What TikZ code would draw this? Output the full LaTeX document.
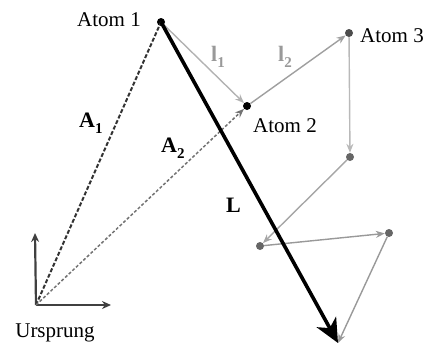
\documentclass[tikz,border=0pt]{standalone}
\usepackage{fontspec}
\setmainfont{Liberation Serif}
\usetikzlibrary{arrows.meta}
\newcommand{\mysub}[1]{\raisebox{-6pt}{\fontsize{15}{15}\selectfont\bfseries #1}}
\begin{document}
\begin{tikzpicture}[x=1pt,y=-1pt,
  atomdot/.style={circle,fill=#1,inner sep=0pt,minimum size=8pt},
  chain/.style={draw=gray!75,line width=1.4pt,-{Stealth[length=9pt,width=7pt]}},
  axis/.style={draw=black!75,line width=2.2pt,-{Stealth[length=9pt,width=8pt]}},
  lab/.style={font=\fontsize{21}{24}\selectfont,anchor=base,inner sep=0pt},
  blab/.style={font=\fontsize{22}{24}\selectfont\bfseries,anchor=base west,inner sep=0pt},
  glab/.style={font=\fontsize{22}{24}\selectfont\bfseries,text=gray!80,anchor=base west,inner sep=0pt}]
\useasboundingbox (0,0) rectangle (427,351);
% points
\coordinate (O) at (36,305);
\coordinate (ytip) at (35,233);
\coordinate (xtip) at (111,305);
\coordinate (e) at (338,343);
% connectors
\draw[axis] (O) -- (ytip);
\draw[axis] (O) -- (xtip);
\node[atomdot=black] (a1) at (161,22) {};
\node[atomdot=black] (a2) at (247,106) {};
\node[atomdot=black!70] (a3) at (349,33) {};
\node[atomdot=black!60] (a4) at (350,157) {};
\node[atomdot=black!60] (a5) at (260,246) {};
\node[atomdot=black!60] (a6) at (389,233) {};
\draw[draw=black!80,line width=2pt,dash pattern=on 4pt off 2pt] (O) -- (a1.center);
\draw[draw=black!55,line width=1.5pt,dash pattern=on 3pt off 2pt,-{Stealth[length=9pt,width=7pt]}] (O) -- (a2);
\draw[chain,draw=gray!60] (a1) -- (a2);
\draw[chain] (a2) -- (a3);
\draw[chain,draw=gray!55] (a3) -- (a4);
\draw[chain,draw=gray!70] (a4) -- (a5);
\draw[chain,draw=gray!80] (a5) -- (a6);
\draw[chain,draw=gray!80] (a6) -- (e);
\draw[line width=3.6pt,-{Stealth[length=24pt,width=22pt,inset=7pt]}] (a1.center) -- (e);
% labels
\node[lab] (t1) at (109,26) {Atom 1};
\node[lab] (t2) at (285,132) {Atom 2};
\node[lab] (t3) at (392,42) {Atom 3};
\node[lab] (t0) at (55,337) {Ursprung};
\node[glab] (l1) at (211,61) {l\mysub{1}};
\node[glab] (l2) at (278,61) {l\mysub{2}};
\node[blab] (A1) at (79,127) {A\mysub{1}};
\node[blab] (A2) at (161,152) {A\mysub{2}};
\node[blab] (L) at (226,212) {L};
\end{tikzpicture}
\end{document}
